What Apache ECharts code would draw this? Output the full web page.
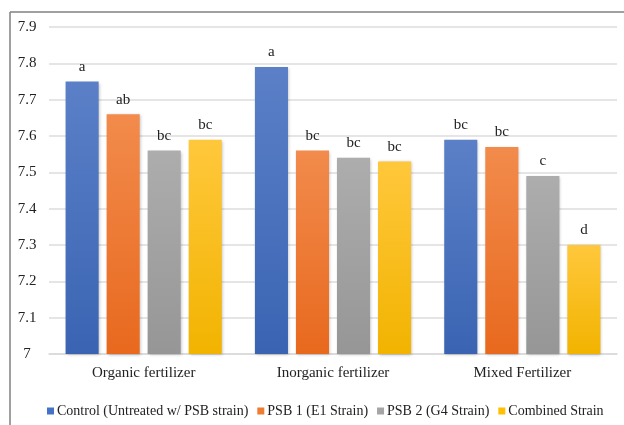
<!DOCTYPE html>
<html>
<head>
<meta charset="utf-8">
<script src="https://cdn.jsdelivr.net/npm/echarts@6/dist/echarts.min.js"></script>
<style>
html,body{margin:0;padding:0;background:#fff;}
#chart{width:624px;height:425px;}
</style>
</head>
<body>
<div id="chart"></div>
<script>
const categories = ['Organic fertilizer', 'Inorganic fertilizer', 'Mixed Fertilizer'];
const seriesNames = ['Control (Untreated w/ PSB strain)', 'PSB 1 (E1 Strain)', 'PSB 2 (G4 Strain)', 'Combined Strain'];
const controlValues = [7.75, 7.79, 7.59];
const psb1Values = [7.66, 7.56, 7.57];
const psb2Values = [7.56, 7.54, 7.49];
const combinedValues = [7.59, 7.53, 7.30];
const controlLetters = ['a', 'a', 'bc'];
const psb1Letters = ['ab', 'bc', 'bc'];
const psb2Letters = ['bc', 'bc', 'c'];
const combinedLetters = ['bc', 'bc', 'd'];
const yTicks = [7, 7.1, 7.2, 7.3, 7.4, 7.5, 7.6, 7.7, 7.8, 7.9];

const allValues = [controlValues, psb1Values, psb2Values, combinedValues];
const allLetters = [controlLetters, psb1Letters, psb2Letters, combinedLetters];
const gradients = [
  ['#5b80c8', '#3a64b2'],
  ['#f28b4c', '#e8691e'],
  ['#adadad', '#969696'],
  ['#ffc83c', '#f2b300']
];
const legendColors = ['#4472c4', '#ed7d31', '#a5a5a5', '#ffc000'];
const serif = '"Liberation Serif", "DejaVu Serif", serif';

const chart = echarts.init(document.getElementById('chart'));
const series = seriesNames.map((name, i) => ({
  name: name,
  type: 'bar',
  data: allValues[i].map((v, j) => ({ value: v, letter: allLetters[i][j] })),
  barGap: '24%',
  barCategoryGap: '17.5%',
  itemStyle: {
    color: new echarts.graphic.LinearGradient(0, 0, 0, 1, [
      { offset: 0, color: gradients[i][0] },
      { offset: 1, color: gradients[i][1] }
    ]),
    shadowBlur: 3,
    shadowColor: 'rgba(0,0,0,0.25)',
    shadowOffsetX: 1,
    shadowOffsetY: 1
  },
  label: {
    show: true,
    position: 'top',
    distance: 7,
    fontFamily: serif,
    fontSize: 15,
    color: '#222',
    formatter: p => p.data.letter
  }
}));

chart.setOption({
  animation: false,
  color: legendColors,
  grid: { left: 49, right: 7, top: 27, bottom: 71, containLabel: false },
  legend: {
    top: 404,
    left: 47,
    padding: 0,
    itemWidth: 7,
    itemHeight: 7,
    itemGap: 9,
    icon: 'rect',
    textStyle: { fontFamily: serif, fontSize: 14, color: '#222', padding: [0, 0, 0, -2] },
    data: seriesNames.map((n, i) => ({ name: n, itemStyle: { color: legendColors[i] } }))
  },
  xAxis: {
    type: 'category',
    data: categories,
    axisTick: { show: false },
    axisLine: { lineStyle: { color: '#d9d9d9', width: 1.5 } },
    axisLabel: { fontFamily: serif, fontSize: 15, color: '#222', margin: 12 }
  },
  yAxis: {
    type: 'value',
    min: yTicks[0],
    max: yTicks[yTicks.length - 1],
    interval: 0.1,
    axisLine: { show: false },
    axisTick: { show: false },
    splitLine: { lineStyle: { color: '#dcdcdc', width: 1.5 } },
    axisLabel: {
      fontFamily: serif, fontSize: 15, color: '#222', align: 'center', margin: 22,
      formatter: v => {
        const t = yTicks.find(x => Math.abs(x - v) < 1e-6);
        return t === undefined ? '' : String(t);
      }
    }
  },
  graphic: [
    { type: 'line', shape: { x1: 10, y1: 12, x2: 624, y2: 12 }, style: { stroke: '#808080', lineWidth: 1.5 } },
    { type: 'line', shape: { x1: 10, y1: 12, x2: 10, y2: 425 }, style: { stroke: '#808080', lineWidth: 1.5 } }
  ],
  series: series
});
</script>
</body>
</html>
